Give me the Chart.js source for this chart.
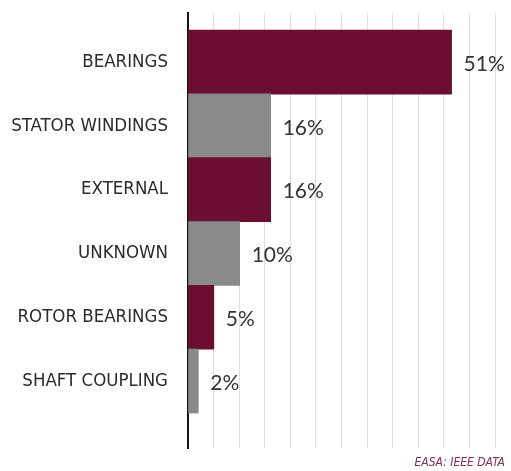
<!DOCTYPE html>
<html>
<head>
<meta charset="utf-8">
<script src="https://cdn.jsdelivr.net/npm/chart.js@4.4.1/dist/chart.umd.min.js"></script>
<style>
  html, body { margin: 0; padding: 0; background: #fff; }
  #wrap { position: relative; width: 511px; height: 471px; }
  #source {
    position: absolute; right: 6px; top: 455px;
    font: italic 12px "DejaVu Sans Condensed", sans-serif;
    color: #8a2d50;
  }
</style>
</head>
<body>
<div id="wrap">
  <canvas id="failure-chart" width="511" height="471"></canvas>
  <div id="source">EASA: IEEE DATA</div>
</div>
<script>
const categories = ['BEARINGS', 'STATOR WINDINGS', 'EXTERNAL', 'UNKNOWN', 'ROTOR BEARINGS', 'SHAFT COUPLING'];
const shares = [51, 16, 16, 10, 5, 2];
const barColors = ['#6b0e31', '#87898b', '#6b0e31', '#87898b', '#6b0e31', '#87898b'];

// writes the percentage next to each bar
const valueLabels = {
    id: 'valueLabels',
    afterDatasetsDraw(chart) {
        const ctx = chart.ctx;
        const meta = chart.getDatasetMeta(0);
        ctx.save();
        ctx.font = '21px Lato, "Open Sans", sans-serif';
        ctx.fillStyle = '#333333';
        ctx.textBaseline = 'middle';
        meta.data.forEach((bar, i) => {
            ctx.fillText(shares[i] + '%', bar.x + 12, bar.y + 2);
        });
        ctx.restore();
    }
};

const ctx = document.getElementById('failure-chart').getContext('2d');
new Chart(ctx, {
    type: 'bar',
    data: {
        datasets: [{
            data: categories.map((c, i) => ({ x: shares[i], y: i })),
            backgroundColor: barColors,
            borderWidth: 0,
            barThickness: 64
        }]
    },
    options: {
        indexAxis: 'y',
        responsive: false,
        animation: false,
        layout: { padding: { top: 13, bottom: 23, left: 0, right: 16 } },
        plugins: {
            legend: { display: false },
            tooltip: { enabled: false }
        },
        scales: {
            x: {
                type: 'linear',
                bounds: 'data',
                min: 0,
                max: 59.4,
                ticks: { display: false, stepSize: 4.95 },
                grid: { color: '#dedede', lineWidth: 1, drawTicks: false },
                border: { display: false },
                afterFit(scale) { scale.height = 0; scale.paddingLeft = 0; scale.paddingRight = 0; }
            },
            y: {
                type: 'linear',
                bounds: 'data',
                offset: false,
                reverse: true,
                min: -0.77,
                max: 6.05,
                afterBuildTicks(scale) {
                    scale.ticks = categories.map((c, i) => ({ value: i }));
                },
                afterFit(scale) {
                    scale.width = 188;
                    scale.paddingTop = 0;
                    scale.paddingBottom = 0;
                },
                ticks: {
                    autoSkip: false,
                    padding: 20,
                    color: '#2b2b2b',
                    font: { family: '"DejaVu Sans Condensed", sans-serif', size: 18.5 },
                    callback: (v) => categories[v] !== undefined ? categories[v] : ''
                },
                grid: { display: false, drawTicks: false, offset: false },
                border: { display: true, color: '#151515', width: 2 }
            }
        }
    },
    plugins: [valueLabels]
});
</script>
</body>
</html>
